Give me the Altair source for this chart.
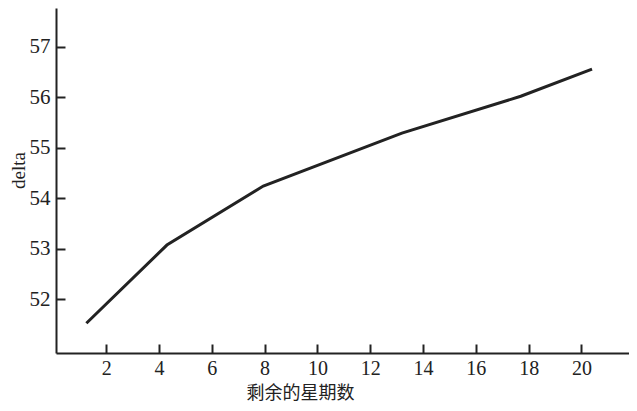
import altair as alt
import pandas as pd

weeks = [1.25, 4.3, 7.95, 13.2, 17.7, 20.4]
delta = [51.52, 53.07, 54.24, 55.29, 56.02, 56.56]
x_ticks = [2, 4, 6, 8, 10, 12, 14, 16, 18, 20]
y_ticks = [52, 53, 54, 55, 56, 57]

df = pd.DataFrame({"weeks": weeks, "delta": delta})

FONT = "Liberation Serif"
CJK = "Noto Sans CJK SC"
INK = "#222222"
W, H = 573, 345

xscale = alt.Scale(domain=[0.1, 21.8], nice=False, zero=False)
yscale = alt.Scale(domain=[50.93, 57.77], nice=False, zero=False)

main = alt.Chart(df).mark_line(color=INK, strokeWidth=3).encode(
    x=alt.X("weeks:Q", scale=xscale, axis=alt.Axis(
        values=x_ticks, title="剩余的星期数", tickSize=0, grid=False,
        domainColor=INK, domainWidth=2, labelFont=FONT, labelFontSize=20,
        labelColor=INK, labelPadding=5, titleFont=CJK, titleFontSize=18,
        titleFontWeight="normal", titleColor=INK, titleX=244, titleY=45,
        titleBaseline="alphabetic")),
    y=alt.Y("delta:Q", scale=yscale, axis=alt.Axis(
        values=y_ticks, title="delta", tickSize=0, grid=False,
        domainColor=INK, domainWidth=2, labelFont=FONT, labelFontSize=21,
        labelColor=INK, labelPadding=6, titleFont=FONT, titleFontSize=19,
        titleFontWeight="normal", titleColor=INK, titleY=162, titleX=-32,
        titleBaseline="alphabetic")),
)

ticks = alt.Chart(df).mark_line(opacity=0).encode(
    x=alt.X("weeks:Q", scale=xscale, axis=alt.Axis(
        orient="top", offset=-H, values=x_ticks, labels=False, title=None,
        domain=False, grid=False, tickSize=9, tickWidth=2, tickColor=INK)),
    y=alt.Y("delta:Q", scale=yscale, axis=alt.Axis(
        orient="right", offset=-W, values=y_ticks, labels=False, title=None,
        domain=False, grid=False, tickSize=9, tickWidth=2, tickColor=INK)),
)

chart = alt.layer(main, ticks).resolve_axis(x="independent", y="independent").properties(
    width=W, height=H,
    autosize=alt.AutoSizeParams(type="none"),
    padding={"left": 48, "top": 0, "right": 0, "bottom": 50},
    background="white",
).configure_view(stroke=None)

chart.save("out.html", embed_options={"renderer": "svg", "actions": False})
